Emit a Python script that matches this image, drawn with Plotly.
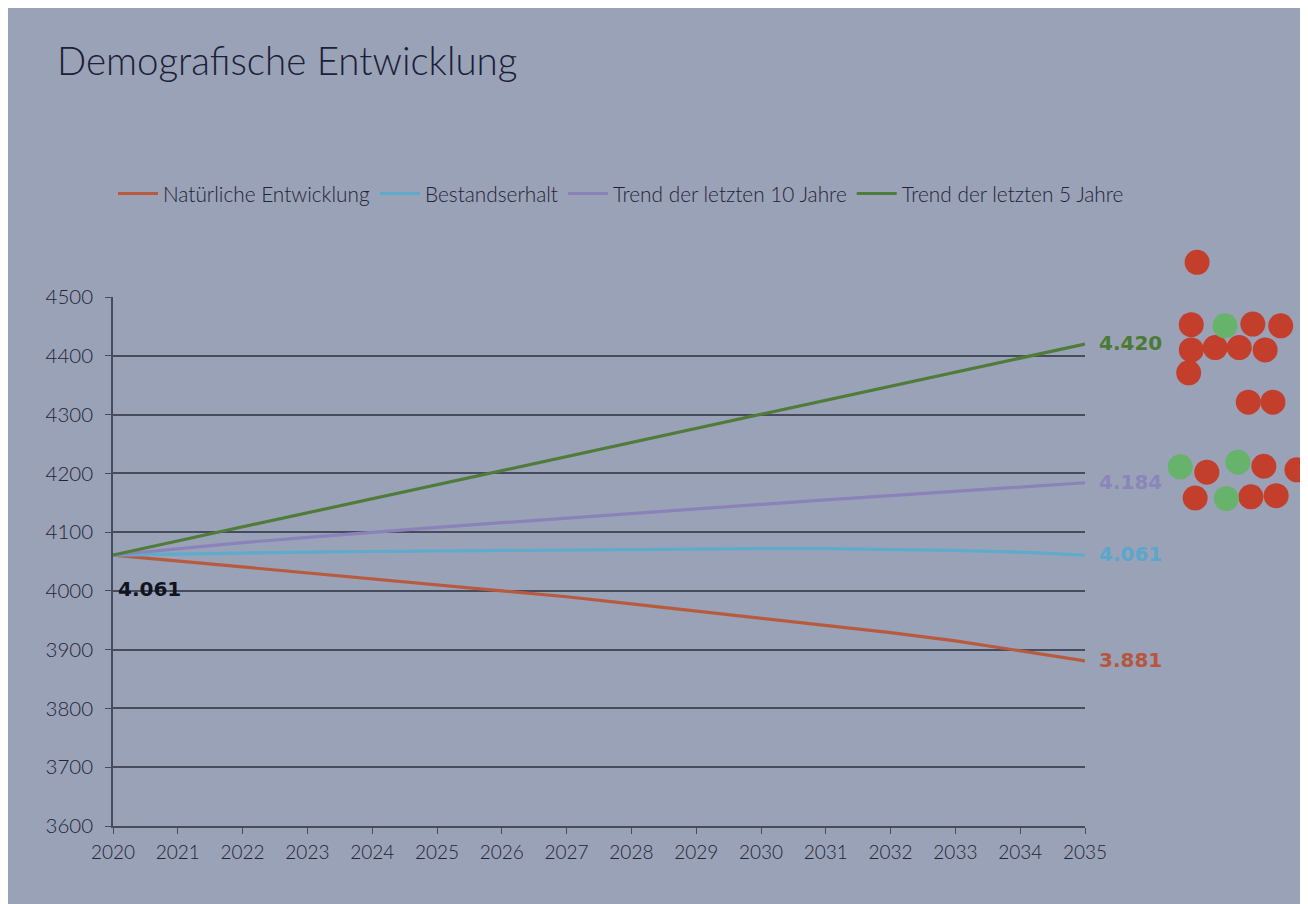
import plotly.graph_objects as go

years = list(range(2020, 2036))
natuerlich = [4061, 4051, 4041, 4031, 4021, 4011, 4001, 3990, 3978, 3966, 3954, 3942, 3929, 3915, 3898, 3881]
bestand = [4061, 4063, 4065, 4066, 4067, 4068, 4069, 4070, 4071, 4072, 4072, 4072, 4071, 4069, 4066, 4061]
trend10 = [4061, 4072, 4082, 4091, 4100, 4108, 4116, 4124, 4132, 4140, 4148, 4155, 4162, 4169, 4177, 4184]
trend5 = [4061, 4085, 4109, 4133, 4157, 4181, 4205, 4229, 4253, 4276, 4300, 4324, 4348, 4372, 4396, 4420]

series_names = ["Natürliche Entwicklung", "Bestandserhalt", "Trend der letzten 10 Jahre", "Trend der letzten 5 Jahre"]
end_labels = ["3.881", "4.061", "4.184", "4.420"]
start_label = "4.061"
y_ticks = list(range(3600, 4501, 100))

# sticker dots (votes) placed to the right of the chart
red_x = [2036.73, 2036.64, 2037.59, 2038.02, 2036.64, 2037.01, 2037.38, 2037.78, 2036.60,
         2037.52, 2037.90, 2036.88, 2037.76, 2038.27, 2036.70, 2037.56, 2037.95]
red_y = [4559, 4453, 4454, 4451, 4410, 4414, 4414, 4410, 4371,
         4321, 4321, 4202, 4212, 4206, 4158, 4160, 4162]
green_x = [2037.16, 2036.47, 2037.36, 2037.18]
green_y = [4451, 4211, 4219, 4157]

line_colors = ["#b85a3e", "#5eabcb", "#8b82b9", "#4f7c39"]
label_colors = ["#b5563d", "#5ba6cc", "#8c85b9", "#4b7a35"]
bg = "#9aa2b8"
ink = "#1f2436"
grid = "#474c5c"

# layout geometry (figure pixels)
L, T, B, W, H = 105, 230, 86, 1308, 904
plot_w = W - L
plot_h = H - T - B
main_w = 972          # 2020..2035
main_h = 529          # 3600..4500
x_dom_end = main_w / plot_w
y_dom_end = main_h / plot_h
px_per_year = main_w / (years[-1] - years[0])
units_per_px = (y_ticks[-1] - y_ticks[0]) / main_h

fig = go.Figure()
all_series = [natuerlich, bestand, trend10, trend5]
for name, vals, col in zip(series_names, all_series, line_colors):
    fig.add_trace(go.Scatter(x=years, y=vals, mode="lines", name=name,
                             line=dict(color=col, width=3.2)))

fig.add_trace(go.Scatter(x=red_x, y=red_y, mode="markers", showlegend=False, xaxis="x2", yaxis="y2",
                         cliponaxis=False, marker=dict(size=25, color="#c43e2c", line=dict(width=0))))
fig.add_trace(go.Scatter(x=green_x, y=green_y, mode="markers", showlegend=False, xaxis="x2", yaxis="y2",
                         cliponaxis=False, marker=dict(size=25, color="#68b36c", line=dict(width=0))))

for vals, lab, col in zip(all_series, end_labels, label_colors):
    fig.add_annotation(x=years[-1], y=vals[-1], text=lab, showarrow=False, xanchor="left",
                       xshift=12, yshift=1,
                       font=dict(family="DejaVu Sans", size=20, color=col, weight="bold"))

fig.add_annotation(x=years[0], y=natuerlich[0], text=start_label, showarrow=False,
                   xanchor="left", yanchor="top", xshift=3, yshift=-20,
                   font=dict(family="DejaVu Sans", size=20, color="#101320", weight="bold"))

fig.update_layout(
    width=W, height=H,
    paper_bgcolor=bg, plot_bgcolor=bg,
    margin=dict(l=L, r=0, t=T, b=B, autoexpand=False),
    font=dict(family="Lato", color=ink, size=17),
    title=dict(text="Demografische Entwicklung", x=49 / W, xanchor="left", xref="container",
               y=1 - 54 / H, yanchor="middle", yref="container",
               font=dict(family="Lato", size=38.5, color="#1b2036", weight=300)),
    legend=dict(orientation="h", x=0.0, xanchor="left", y=(plot_h - (186 - T)) / plot_h, yanchor="middle",
                font=dict(family="Lato", size=20.8, color=ink, weight=300), bgcolor="rgba(0,0,0,0)",
                itemwidth=40, tracegroupgap=0),
    showlegend=True,
    xaxis=dict(domain=[0, x_dom_end], range=[years[0], years[-1]], tickmode="array", tickvals=years,
               ticktext=[str(y) for y in years], showgrid=False, zeroline=False, showline=True,
               linecolor=grid, linewidth=1.5, ticks="outside", ticklen=6, tickcolor=grid,
               ticklabelstandoff=2, automargin=False,
               tickfont=dict(size=19, color=ink, weight=300)),
    yaxis=dict(domain=[0, y_dom_end], range=[y_ticks[0], y_ticks[-1]], tickmode="array", tickvals=y_ticks,
               ticktext=[str(v) for v in y_ticks], showgrid=True, gridcolor=grid, gridwidth=1.5,
               zeroline=False, showline=True, linecolor=grid, linewidth=1.5, ticks="outside",
               ticklen=6, tickcolor=grid, ticklabelstandoff=8, automargin=False,
               tickfont=dict(size=20.5, color=ink, weight=300)),
    xaxis2=dict(domain=[x_dom_end, 1], range=[years[-1], years[-1] + (plot_w - main_w) / px_per_year],
                visible=False, anchor="y2", automargin=False),
    yaxis2=dict(domain=[0, 1], range=[y_ticks[0], y_ticks[0] + plot_h * units_per_px],
                visible=False, anchor="x2", automargin=False),
)

fig.write_html("out.html")
